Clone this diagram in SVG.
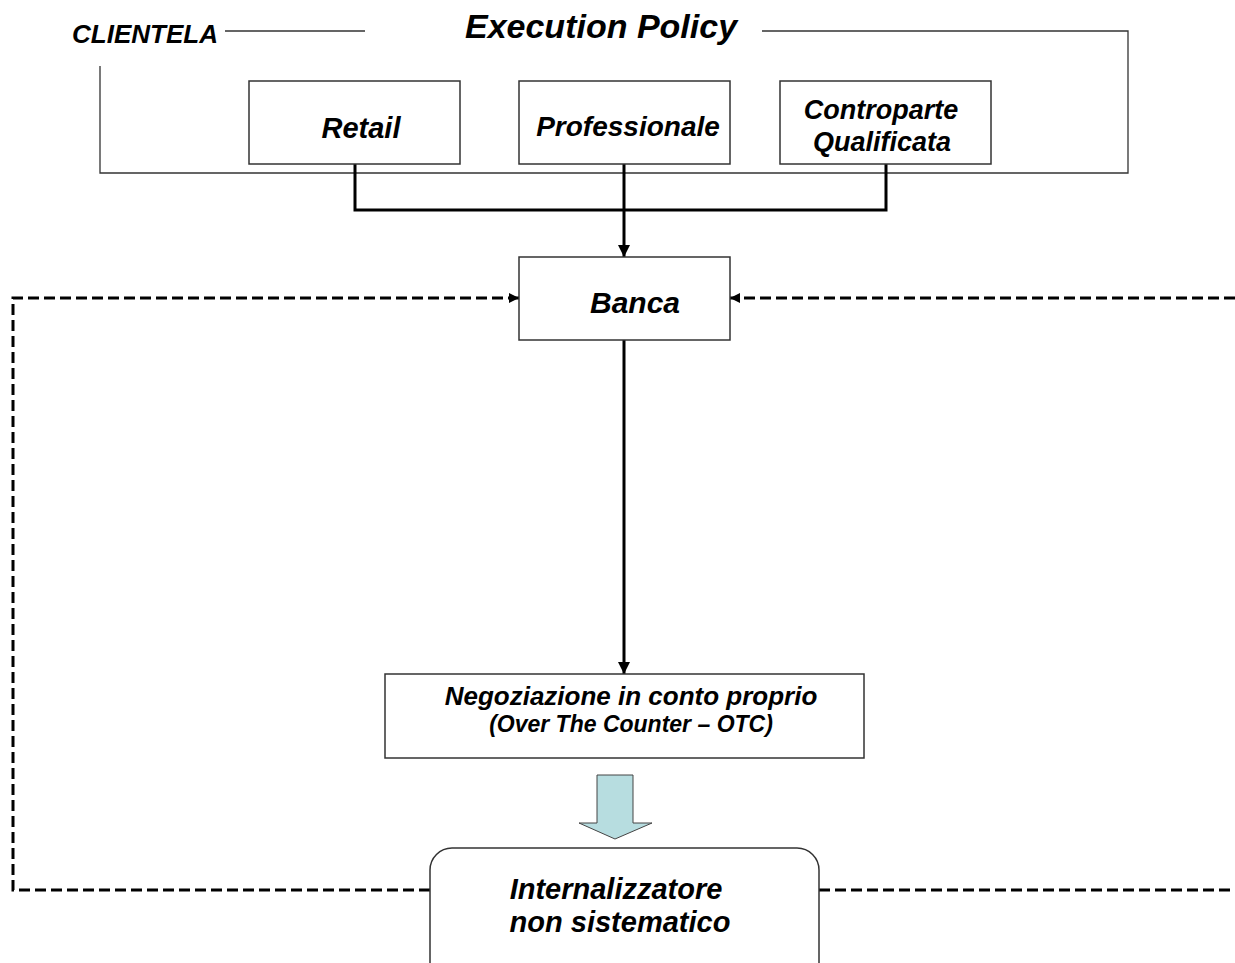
<svg xmlns="http://www.w3.org/2000/svg" width="1235" height="963" viewBox="0 0 1235 963">
<defs>
<style>
text{font-family:"Liberation Sans",Arial,sans-serif;font-weight:bold;font-style:italic;fill:#000}
.box{fill:#fff;stroke:#333;stroke-width:1.5}
.frame{fill:none;stroke:#333;stroke-width:1.3}
.conn{fill:none;stroke:#000;stroke-width:3}
.dash{fill:none;stroke:#000;stroke-width:3;stroke-dasharray:11 5}
</style>
<marker id="ah" viewBox="0 0 12 12" refX="12" refY="6" markerWidth="12" markerHeight="12" orient="auto" markerUnits="userSpaceOnUse">
<path d="M0,0 L12,6 L0,12 z" fill="#000"/>
</marker>
<marker id="ahd" viewBox="0 0 10 10" refX="10" refY="5" markerWidth="10" markerHeight="10" orient="auto" markerUnits="userSpaceOnUse">
<path d="M0,0 L10,5 L0,10 z" fill="#000"/>
</marker>
</defs>
<rect width="1235" height="963" fill="#fff"/>

<g id="clientela-frame">
<path class="frame" d="M225,31 H365 M762,31 H1128 V173 H100 V66"/>
<text x="72" y="43" font-size="25" textLength="146" lengthAdjust="spacingAndGlyphs">CLIENTELA</text>
<text x="601" y="38" font-size="34" text-anchor="middle">Execution Policy</text>
</g>

<g id="connectors">
<path class="conn" d="M355,164 V210 H886 V164"/>
<path class="conn" d="M624,164 V257" marker-end="url(#ah)"/>
<path class="conn" d="M624,340 V674" marker-end="url(#ah)"/>
<path class="dash" d="M430,890 H13 V298 H519" marker-end="url(#ahd)"/>
<path class="dash" d="M1235,298 H730" marker-end="url(#ahd)"/>
<path class="dash" d="M819,890 H1235"/>
</g>

<g id="retail">
<rect class="box" x="249" y="81" width="211" height="83"/>
<text x="361" y="138" font-size="29" text-anchor="middle">Retail</text>
</g>

<g id="professionale">
<rect class="box" x="519" y="81" width="211" height="83"/>
<text x="628" y="136" font-size="28" text-anchor="middle">Professionale</text>
</g>

<g id="controparte">
<rect class="box" x="780" y="81" width="211" height="83"/>
<text x="881" y="119" font-size="27" text-anchor="middle">Controparte</text>
<text x="882" y="151" font-size="27" text-anchor="middle">Qualificata</text>
</g>

<g id="banca">
<rect class="box" x="519" y="257" width="211" height="83"/>
<text x="635" y="313" font-size="30" text-anchor="middle">Banca</text>
</g>

<g id="negoziazione">
<rect class="box" x="385" y="674" width="479" height="84"/>
<text x="631" y="705" font-size="26" text-anchor="middle">Negoziazione in conto proprio</text>
<text x="631" y="732" font-size="23" text-anchor="middle">(Over The Counter – OTC)</text>
</g>

<g id="block-arrow">
<polygon points="597,775 633,775 633,823 652,823 615,839 579,823 597,823" fill="#b7dde0" stroke="#444" stroke-width="1"/>
</g>

<g id="internalizzatore">
<rect class="box" x="430" y="848" width="389" height="150" rx="22" ry="22"/>
<text x="616" y="899" font-size="29" text-anchor="middle">Internalizzatore</text>
<text x="620" y="932" font-size="29" text-anchor="middle">non sistematico</text>
</g>
</svg>
